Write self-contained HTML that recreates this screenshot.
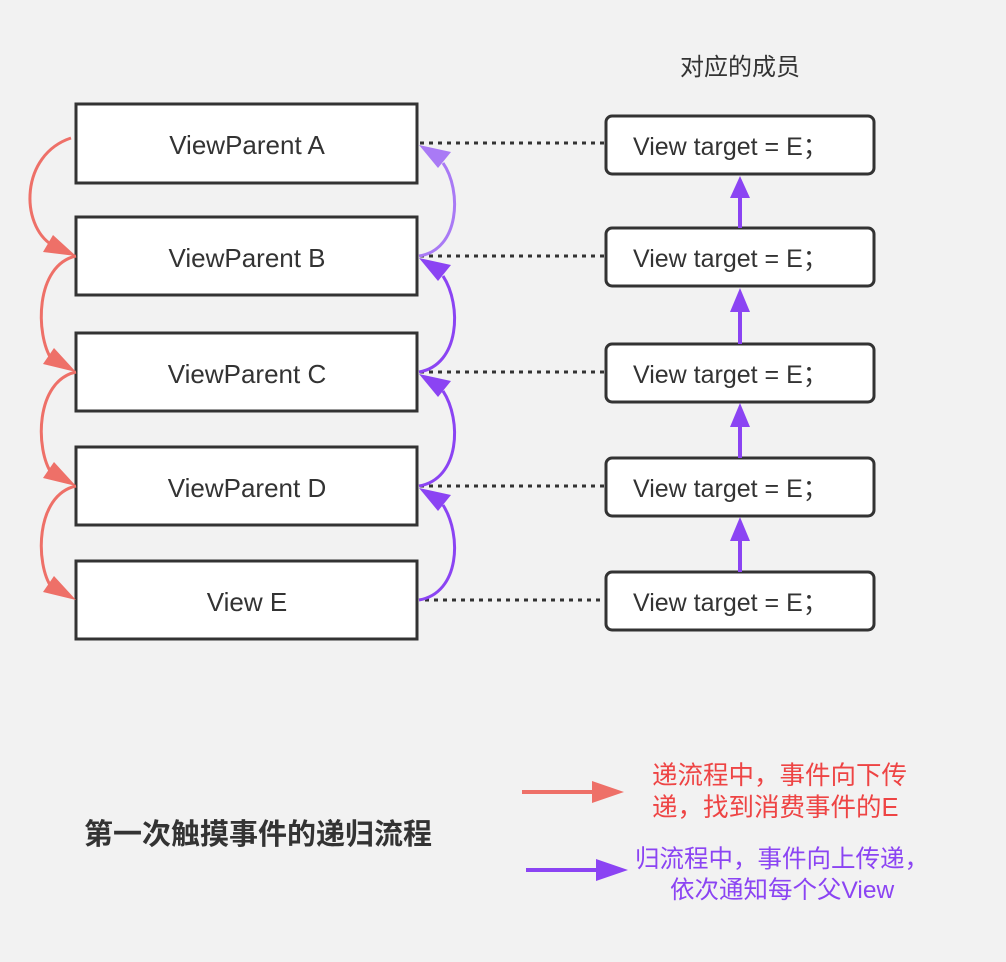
<!DOCTYPE html>
<html><head><meta charset="utf-8"><style>
body{margin:0;background:#f2f2f2;}
svg{display:block;font-family:"Liberation Sans","Noto Sans CJK SC",sans-serif;}
</style></head><body>
<svg width="1006" height="962" viewBox="0 0 1006 962">
<rect width="1006" height="962" fill="#f2f2f2"/>
<text x="740" y="75" font-size="24" fill="#333" text-anchor="middle" font-family="'Noto Sans CJK SC',sans-serif">对应的成员</text>
<!-- dotted lines -->
<g stroke="#333" stroke-width="3" stroke-dasharray="4,5">
<line x1="420" y1="143" x2="605" y2="143"/>
<line x1="420" y1="256" x2="605" y2="256"/>
<line x1="420" y1="372" x2="605" y2="372"/>
<line x1="420" y1="486" x2="605" y2="486"/>
<line x1="425" y1="600" x2="605" y2="600"/>
</g>
<!-- left boxes -->
<g fill="#fff" stroke="#333" stroke-width="3">
<rect x="76" y="104" width="341" height="79"/>
<rect x="76" y="217" width="341" height="78"/>
<rect x="76" y="333" width="341" height="78"/>
<rect x="76" y="447" width="341" height="78"/>
<rect x="76" y="561" width="341" height="78"/>
</g>
<g font-size="26" fill="#333" text-anchor="middle">
<text x="247" y="154">ViewParent A</text>
<text x="247" y="267">ViewParent B</text>
<text x="247" y="383">ViewParent C</text>
<text x="247" y="497">ViewParent D</text>
<text x="247" y="611">View E</text>
</g>
<!-- right boxes -->
<g fill="#fff" stroke="#333" stroke-width="3">
<rect x="606" y="116" width="268" height="58" rx="6"/>
<rect x="606" y="228" width="268" height="58" rx="6"/>
<rect x="606" y="344" width="268" height="58" rx="6"/>
<rect x="606" y="458" width="268" height="58" rx="6"/>
<rect x="606" y="572" width="268" height="58" rx="6"/>
</g>
<g font-size="25" fill="#333">
<text x="633" y="155">View target = E；</text>
<text x="633" y="267">View target = E；</text>
<text x="633" y="383">View target = E；</text>
<text x="633" y="497">View target = E；</text>
<text x="633" y="611">View target = E；</text>
</g>
<!-- vertical purple arrows -->
<g stroke="#8b44f3" stroke-width="4">
<line x1="740" y1="228" x2="740" y2="195"/>
<line x1="740" y1="344" x2="740" y2="309"/>
<line x1="740" y1="458" x2="740" y2="424"/>
<line x1="740" y1="572" x2="740" y2="538"/>
</g>
<g fill="#8b44f3">
<path d="M730,198 L740,176 L750,198 z"/>
<path d="M730,312 L740,288 L750,312 z"/>
<path d="M730,427 L740,403 L750,427 z"/>
<path d="M730,541 L740,517 L750,541 z"/>
</g>
<!-- red curves -->
<g fill="none" stroke="#ee7068" stroke-width="3">
<path d="M71,138 C20,155 20,225 52,245"/>
<path d="M76,256 C35,265 35,335 52,360"/>
<path d="M76,372 C35,381 35,450 52,474"/>
<path d="M76,486 C35,495 35,565 52,588"/>
</g>
<g fill="#ee7068">
<path d="M43,252 L53,235 L76,256 z"/>
<path d="M43,364 L54,348 L76,372 z"/>
<path d="M43,478 L54,462 L76,486 z"/>
<path d="M43,592 L54,576 L76,600 z"/>
</g>
<!-- purple curves -->
<g fill="none" stroke-width="3">
<path d="M419,256 C460,250 462,190 443,163" stroke="#a97af5"/>
<path d="M419,372 C460,365 462,305 443,276" stroke="#8b44f3"/>
<path d="M419,486 C460,479 462,420 443,391" stroke="#8b44f3"/>
<path d="M419,600 C460,593 462,535 443,505" stroke="#8b44f3"/>
</g>
<path d="M419,145 L451,152 L438,168 z" fill="#a97af5"/>
<g fill="#8b44f3">
<path d="M419,258 L451,265 L438,281 z"/>
<path d="M419,374 L451,381 L438,397 z"/>
<path d="M419,488 L451,495 L438,511 z"/>
</g>
<!-- legend -->
<line x1="522" y1="792" x2="596" y2="792" stroke="#ee7068" stroke-width="4"/>
<path d="M592,781 L624,792 L592,803 z" fill="#ee7068"/>
<line x1="526" y1="870" x2="600" y2="870" stroke="#8b44f3" stroke-width="4"/>
<path d="M596,859 L628,870 L596,881 z" fill="#8b44f3"/>
<g font-size="25.5" fill="#ee4444">
<text x="652" y="784">递流程中，事件向下传</text>
<text x="652" y="816">递，找到消费事件的E</text>
</g>
<g font-size="24.5" fill="#8b44f3">
<text x="635" y="867">归流程中，事件向上传递，</text>
<text x="670" y="898">依次通知每个父View</text>
</g>
<text x="84" y="844" font-size="29" font-weight="bold" fill="#333">第一次触摸事件的递归流程</text>
</svg>
</body></html>
